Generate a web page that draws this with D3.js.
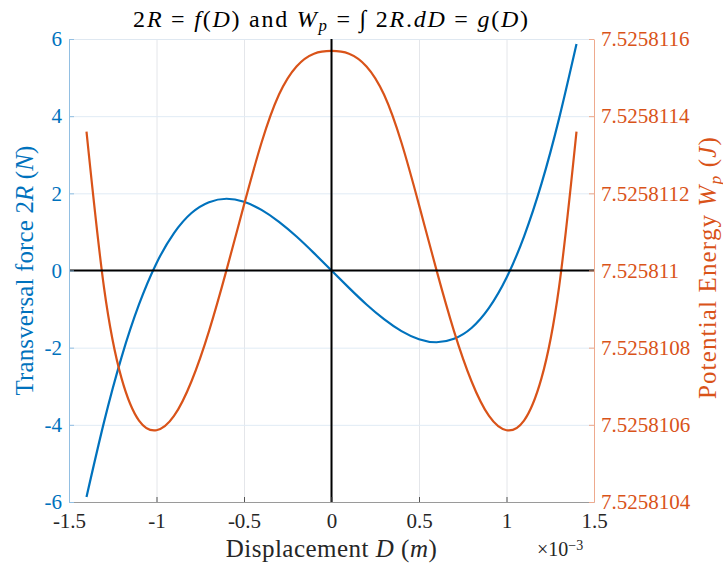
<!DOCTYPE html>
<html>
<head>
<meta charset="utf-8">
<script src="https://cdn.jsdelivr.net/npm/d3@7"></script>
<style>
  body { margin: 0; background: #fff; }
  svg { display: block; }
  text { font-family: "Liberation Serif", "DejaVu Serif", serif; }
</style>
</head>
<body>
<svg id="chart" width="723" height="568"></svg>
<script>
// Displacement D (m), sampled every 0.1 mm
const displacement = [
  -1.4e-3, -1.3e-3, -1.2e-3, -1.1e-3, -1.0e-3, -0.9e-3, -0.8e-3,
  -0.7e-3, -0.6e-3, -0.5e-3, -0.4e-3, -0.3e-3, -0.2e-3, -0.1e-3, 0,
  0.1e-3, 0.2e-3, 0.3e-3, 0.4e-3, 0.5e-3, 0.6e-3, 0.7e-3,
  0.8e-3, 0.9e-3, 1.0e-3, 1.1e-3, 1.2e-3, 1.3e-3, 1.4e-3
];
// Transversal force 2R (N)
const force = [
  -5.87, -3.93, -2.25, -0.88, 0.19, 0.97, 1.49,
  1.77, 1.86, 1.78, 1.57, 1.26, 0.88, 0.45, 0,
  -0.45, -0.88, -1.26, -1.57, -1.78, -1.86, -1.77,
  -1.49, -0.97, -0.19, 0.88, 2.25, 3.93, 5.87
];
// Potential energy Wp (J)
const energy = [
  7.52581136, 7.525810956, 7.525810721, 7.525810611, 7.525810586, 7.525810623, 7.525810713,
  7.525810843, 7.525811001, 7.52581117, 7.525811331, 7.525811456, 7.525811529, 7.525811562, 7.525811569,
  7.525811562, 7.525811529, 7.525811456, 7.525811331, 7.52581117, 7.525811001, 7.525810843,
  7.525810713, 7.525810623, 7.525810586, 7.525810611, 7.525810721, 7.525810956, 7.52581136
];

const xTicks = [-1.5e-3, -1e-3, -0.5e-3, 0, 0.5e-3, 1e-3, 1.5e-3];
const xTickLabels = ["-1.5", "-1", "-0.5", "0", "0.5", "1", "1.5"];
const forceTicks = [-6, -4, -2, 0, 2, 4, 6];
const forceTickLabels = ["-6", "-4", "-2", "0", "2", "4", "6"];
const energyTicks = [7.5258104, 7.5258106, 7.5258108, 7.525811, 7.5258112, 7.5258114, 7.5258116];
const energyTickLabels = ["7.5258104", "7.5258106", "7.5258108", "7.525811", "7.5258112", "7.5258114", "7.5258116"];

const BLUE = "#0072BD", ORANGE = "#D95319";
const plot = { left: 69, right: 594, top: 39, bottom: 502 };

const svg = d3.select("#chart");

const x = d3.scaleLinear().domain([-1.5e-3, 1.5e-3]).range([plot.left, plot.right]);
const yL = d3.scaleLinear().domain([-6, 6]).range([plot.bottom, plot.top]);
const yR = d3.scaleLinear().domain([7.5258104, 7.5258116]).range([plot.bottom, plot.top]);

const W = plot.right - plot.left, H = plot.bottom - plot.top;

// grid
svg.append("g")
  .attr("transform", `translate(0,${plot.bottom})`)
  .call(d3.axisBottom(x).tickValues(xTicks.slice(1, -1)).tickSize(-H).tickFormat(""))
  .call(g => g.select(".domain").remove())
  .call(g => g.selectAll("line").attr("stroke", "#e4e6ea").attr("stroke-width", 1));
svg.append("g")
  .attr("transform", `translate(${plot.left},0)`)
  .call(d3.axisLeft(yL).tickValues(forceTicks.slice(1, -1)).tickSize(-W).tickFormat(""))
  .call(g => g.select(".domain").remove())
  .call(g => g.selectAll("line").attr("stroke", "#e0ebf5").attr("stroke-width", 1));

// top border
svg.append("line")
  .attr("x1", plot.left).attr("x2", plot.right)
  .attr("y1", plot.top + 0.5).attr("y2", plot.top + 0.5)
  .attr("stroke", "#dfe8f1").attr("stroke-width", 1);

// curves (natural cubic spline through the uniformly spaced samples)
const pts = displacement.map((d, i) => ({ d, f: force[i], e: energy[i] }));
svg.append("path")
  .datum(pts)
  .attr("fill", "none").attr("stroke", BLUE).attr("stroke-width", 2.2)
  .attr("d", d3.line().x(p => x(p.d)).y(p => yL(p.f)).curve(d3.curveNatural));
svg.append("path")
  .datum(pts)
  .attr("fill", "none").attr("stroke", ORANGE).attr("stroke-width", 2.2)
  .attr("d", d3.line().x(p => x(p.d)).y(p => yR(p.e)).curve(d3.curveNatural));

// zero lines
svg.append("line")
  .attr("x1", x(-1.5e-3)).attr("x2", x(1.5e-3))
  .attr("y1", yL(0)).attr("y2", yL(0))
  .attr("stroke", "#000").attr("stroke-width", 2);
svg.append("line")
  .attr("x1", x(0)).attr("x2", x(0))
  .attr("y1", yL(-6)).attr("y2", yL(6))
  .attr("stroke", "#000").attr("stroke-width", 2);

// axes
const tickFont = 21;
const xAxis = svg.append("g")
  .attr("transform", `translate(0,${plot.bottom})`)
  .call(d3.axisBottom(x).tickValues(xTicks).tickSizeInner(-5).tickSizeOuter(0)
    .tickFormat((d, i) => xTickLabels[i]));
xAxis.select(".domain").attr("stroke", "#9a9a9a");
xAxis.selectAll("line").attr("stroke", "#555");
xAxis.selectAll("text").attr("fill", "#262626").attr("font-size", tickFont)
  .attr("y", 25.5).attr("dy", null);

const lAxis = svg.append("g")
  .attr("transform", `translate(${plot.left},0)`)
  .call(d3.axisLeft(yL).tickValues(forceTicks).tickSizeInner(-5).tickSizeOuter(0).tickPadding(7)
    .tickFormat((d, i) => forceTickLabels[i]));
lAxis.select(".domain").attr("stroke", "#92bfe2");
lAxis.selectAll("line").attr("stroke", "#92bfe2");
lAxis.selectAll("text").attr("fill", BLUE).attr("font-size", tickFont);

const rAxis = svg.append("g")
  .attr("transform", `translate(${plot.right},0)`)
  .call(d3.axisRight(yR).tickValues(energyTicks).tickSizeInner(-5).tickSizeOuter(0).tickPadding(7)
    .tickFormat((d, i) => energyTickLabels[i]));
rAxis.select(".domain").attr("stroke", "#eeaa8e");
rAxis.selectAll("line").attr("stroke", "#eeaa8e");
rAxis.selectAll("text").attr("fill", ORANGE).attr("font-size", tickFont);

// rich text helper: parts are [text, italic?, "sub"|"sup"]
function rich(sel, parts) {
  parts.forEach(([t, it, sub]) => {
    const ts = sel.append("tspan").text(t);
    if (it) ts.attr("font-style", "italic");
    if (sub === "sub") ts.attr("baseline-shift", "-25%").attr("font-size", "70%");
    if (sub === "sup") ts.attr("baseline-shift", "45%").attr("font-size", "70%");
  });
  return sel;
}
// widen a text run slightly so it spans the given length
function spread(sel, target) {
  const node = sel.node();
  const n = node.getNumberOfChars();
  const w = node.getComputedTextLength();
  if (n > 1 && target > w) sel.attr("letter-spacing", (target - w) / (n - 1));
  return sel;
}

// title
spread(rich(svg.append("text")
  .attr("x", (plot.left + plot.right) / 2).attr("y", 27)
  .attr("text-anchor", "middle").attr("font-size", 24).attr("fill", "#000"),
  [["2"], ["R", true], [" = "], ["f", true], ["("], ["D", true], [") and "], ["W", true], ["p", true, "sub"],
   [" = \u222B 2"], ["R", true], ["."], ["dD", true], [" = "], ["g", true], ["("], ["D", true], [")"]]), 395);

// x label
spread(rich(svg.append("text")
  .attr("x", (plot.left + plot.right) / 2).attr("y", 557)
  .attr("text-anchor", "middle").attr("font-size", 25).attr("fill", "#262626"),
  [["Displacement "], ["D", true], [" ("], ["m", true], [")"]]), 211);

// exponent
rich(svg.append("text")
  .attr("x", 537).attr("y", 556)
  .attr("font-size", 20).attr("fill", "#262626"),
  [["\u00D710"], ["\u22123", false, "sup"]]);

// left y label
spread(rich(svg.append("text")
  .attr("transform", `translate(33,${(plot.top + plot.bottom) / 2}) rotate(-90)`)
  .attr("text-anchor", "middle").attr("font-size", 25).attr("fill", BLUE),
  [["Transversal force 2"], ["R", true], [" ("], ["N", true], [")"]]), 250);

// right y label
spread(rich(svg.append("text")
  .attr("transform", `translate(716,${(plot.top + plot.bottom) / 2 - 3}) rotate(-90)`)
  .attr("text-anchor", "middle").attr("font-size", 25).attr("fill", ORANGE),
  [["Potential Energy "], ["W", true], ["p", true, "sub"], [" ("], ["J", true], [")"]]), 262);
</script>
</body>
</html>
